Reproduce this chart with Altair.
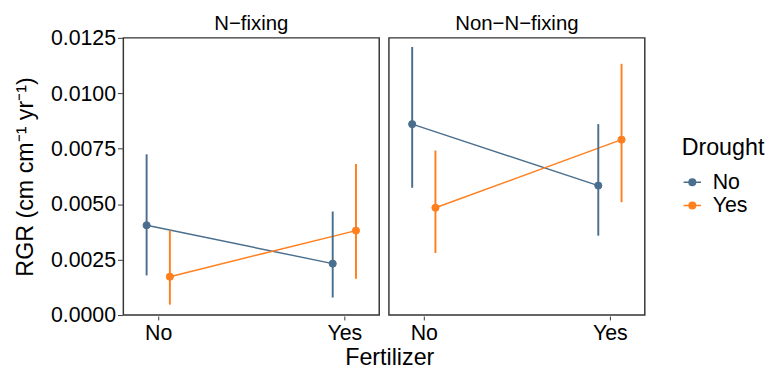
import altair as alt
import pandas as pd

groups = ["N−fixing", "Non−N−fixing"]
fertilizer_levels = ["No", "Yes"]
drought_levels = ["No", "Yes"]

# order per group: (Fert No, Drought No), (Fert No, Drought Yes), (Fert Yes, Drought No), (Fert Yes, Drought Yes)
nfix_mean = [0.00405, 0.00173, 0.00232, 0.00381]
nfix_low = [0.00179, 0.00047, 0.00079, 0.00164]
nfix_high = [0.00725, 0.00381, 0.00467, 0.00681]

non_mean = [0.00861, 0.00484, 0.00584, 0.00791]
non_low = [0.00574, 0.00280, 0.00358, 0.00509]
non_high = [0.01209, 0.00742, 0.00861, 0.01133]

y_ticks = [0.0, 0.0025, 0.005, 0.0075, 0.01, 0.0125]

rows = []
series = {groups[0]: (nfix_mean, nfix_low, nfix_high), groups[1]: (non_mean, non_low, non_high)}
for g in groups:
    m, lo, hi = series[g]
    i = 0
    for f in fertilizer_levels:
        for d in drought_levels:
            rows.append({"Group": g, "Fertilizer": f, "Drought": d,
                         "RGR": m[i], "low": lo[i], "high": hi[i]})
            i += 1
df = pd.DataFrame(rows)

FONT = "Liberation Sans"
colors = ["#4a6f8e", "#ff7f1e"]

x_enc = alt.X("xpos:Q",
              scale=alt.Scale(domain=[0.8125, 2.1875], nice=False, zero=False),
              axis=alt.Axis(values=[1, 2], labelExpr="datum.value == 1 ? 'No' : 'Yes'",
                            title=None, grid=False, labelFontSize=22, labelColor="black",
                            tickColor="#333333", tickSize=4, labelPadding=3, domain=False))
y_enc = alt.Y("RGR:Q",
              scale=alt.Scale(domain=[0, 0.0125], nice=False),
              axis=alt.Axis(values=y_ticks, format=".4f", title="RGR (cm cm⁻¹ yr⁻¹)",
                            grid=False, labelFontSize=22, labelColor="black",
                            titleFontSize=24, titleFontWeight="normal", titleColor="black",
                            tickColor="#333333", tickSize=5, labelPadding=2, titlePadding=13,
                            domain=False))

legend_path = "M-1,0L1,0M-0.38,0A0.38,0.38,0,1,1,0.38,0A0.38,0.38,0,1,1,-0.38,0Z"
scale_c = alt.Scale(domain=drought_levels, range=colors)
legend = alt.Legend(title="Drought", orient="none", legendX=576, legendY=102,
                    symbolType=legend_path, symbolSize=324, symbolStrokeWidth=1.5,
                    titleFontSize=24, titleFontWeight="normal", titleColor="black",
                    labelFontSize=22, labelColor="black", rowPadding=2, titlePadding=12,
                    labelOffset=10)

base = alt.Chart(df).transform_calculate(
    xpos="indexof(['No','Yes'], datum.Fertilizer) + 1 + (datum.Drought == 'No' ? -0.0625 : 0.0625)"
)

lines = base.mark_line(strokeWidth=1.5).encode(
    x=x_enc, y=y_enc,
    stroke=alt.Stroke("Drought:N", scale=scale_c, legend=legend),
)
bars = base.mark_rule(strokeWidth=2).encode(
    x="xpos:Q", y="low:Q", y2="high:Q",
    stroke=alt.Stroke("Drought:N", scale=scale_c, legend=legend),
)
points = base.mark_circle(size=55, opacity=1, strokeWidth=1).encode(
    x="xpos:Q", y="RGR:Q",
    fill=alt.Fill("Drought:N", scale=scale_c, legend=legend),
    stroke=alt.Stroke("Drought:N", scale=scale_c, legend=legend),
)

layer = alt.layer(lines, bars, points).properties(width=264, height=286)

chart = layer.facet(
    column=alt.Column("Group:N", sort=groups,
                      header=alt.Header(title=None, labelFontSize=21, labelColor="black",
                                        labelFont=FONT, labelPadding=3)),
    spacing=8,
).properties(
    title=alt.TitleParams("Fertilizer", orient="bottom", anchor="middle", fontSize=24,
                          fontWeight="normal", color="black", offset=3, font=FONT),
    padding={"left": 6, "top": 0, "right": 0, "bottom": 0},
).configure(
    font=FONT,
).configure_view(
    stroke="#333333", strokeWidth=1.5
)

chart.save("out.html", embed_options={"renderer": "svg", "actions": False})
